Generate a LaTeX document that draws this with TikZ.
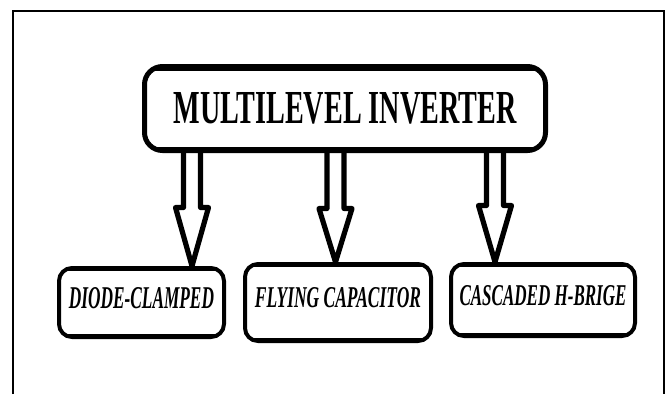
\documentclass[tikz,border=0pt]{standalone}
\usepackage{fontspec}
\usepackage{graphicx}
\setmainfont{Liberation Serif}
\usetikzlibrary{calc}
\newcommand\blkarrow[3]{%
  \draw[barrow] let \p1=(#1), \p2=(#2) in
    (\x1-8.5pt,\y1) -- (\x1-8.5pt,\y2+#3) -- (\x1-16.5pt,\y2+#3) -- (\x2,\y2)
    -- (\x1+16.5pt,\y2+#3) -- (\x1+8.5pt,\y2+#3) -- (\x1+8.5pt,\y1);}
\begin{document}
\begin{tikzpicture}[x=1pt,y=-1pt,
  band/.style={path picture={
    \fill[sharp corners] (path picture bounding box.north west) rectangle ([yshift=-#1]path picture bounding box.north east);
    \fill[sharp corners] (path picture bounding box.south west) rectangle ([yshift=#1]path picture bounding box.south east);}},
  mainbox/.style={draw, line width=5pt, rounded corners=18pt, inner sep=0pt,
    minimum width=401pt, minimum height=84pt, band=4pt},
  childbox/.style={draw, line width=4pt, rounded corners=13pt, inner sep=0pt, band=3pt},
  barrow/.style={line width=5.2pt, line join=round},
  frameline/.style={line width=2pt}]
\useasboundingbox (0,0) rectangle (666,394);
\draw[frameline] (13,394) -- (13,11) -- (664,11) -- (664,394);
\node[mainbox] (main) at (345,108.5)
  {\resizebox{343pt}{31pt}{\bfseries MULTILEVEL INVERTER}\rule[-2pt]{0pt}{2pt}};
\node[childbox, minimum width=165pt, minimum height=69pt] (c1) at (141.5,302.5)
  {\resizebox{145pt}{21pt}{\bfseries\itshape DIODE-CLAMPED}\rule[-10pt]{0pt}{10pt}};
\node[childbox, minimum width=186pt, minimum height=77pt] (c2) at (338,302.5)
  {\resizebox{166pt}{20pt}{\bfseries\itshape FLYING CAPACITOR}\rule[-11pt]{0pt}{11pt}};
\node[childbox, minimum width=184pt, minimum height=72pt] (c3) at (543,300)
  {\resizebox{167pt}{20pt}{\bfseries\itshape CASCADED H-BRIGE}\rule[-10pt]{0pt}{10pt}};
\coordinate (a1) at (192,0);
\coordinate (a2) at (335.5,0);
\coordinate (a3) at (495,0);
\blkarrow{a1 |- main.south}{a1 |- c1.north}{58.5pt}
\blkarrow{a2 |- main.south}{a2 |- c2.north}{53.5pt}
\blkarrow{a3 |- main.south}{a3 |- c3.north}{56.5pt}
\end{tikzpicture}
\end{document}
